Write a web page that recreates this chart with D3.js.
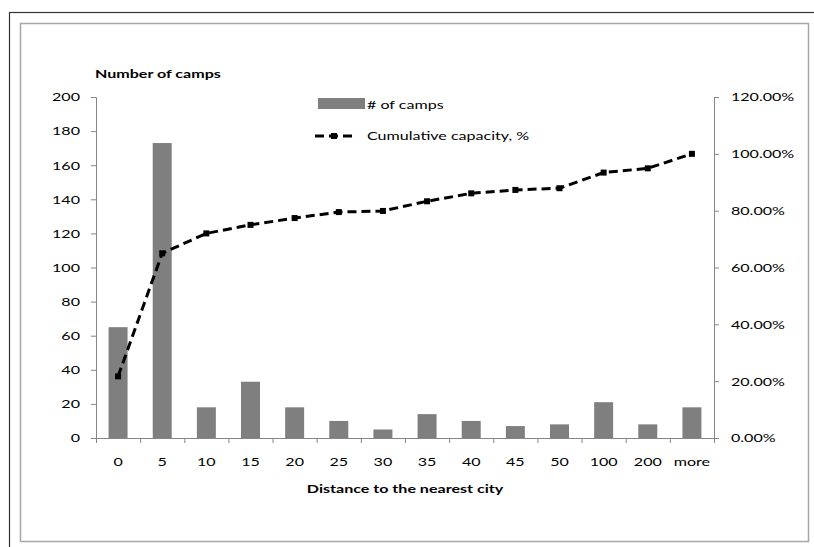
<!DOCTYPE html>
<html>
<head>
<meta charset="utf-8">
<script src="https://cdn.jsdelivr.net/npm/d3@7"></script>
<style>
  body { margin: 0; background: #fff; }
  text { font-family: Lato, "Open Sans", sans-serif; fill: #000; }
</style>
</head>
<body>
<div id="chart"></div>
<script>
// distance bins and values
const categories = ['0', '5', '10', '15', '20', '25', '30', '35', '40', '45', '50', '100', '200', 'more'];
const camps = [65, 173, 18, 33, 18, 10, 5, 14, 10, 7, 8, 21, 8, 18];
const cumulative = [0.217, 0.65, 0.72, 0.75, 0.774, 0.795, 0.799, 0.833, 0.861, 0.873, 0.879, 0.934, 0.949, 1.0];
const leftTicks = [0, 20, 40, 60, 80, 100, 120, 140, 160, 180, 200];
const rightTicks = [0, 0.2, 0.4, 0.6, 0.8, 1.0, 1.2];

const W = 814, H = 547;
const margin = { top: 97, right: 100, bottom: 109, left: 96 };
const width = W - margin.left - margin.right;
const height = H - margin.top - margin.bottom;
const SX = 1.34; // text in the picture is stretched sideways
const axisColor = '#868686';

const root = d3.select('#chart').append('svg')
  .attr('width', W)
  .attr('height', H);

// frames
root.append('rect')
  .attr('x', 9.5).attr('y', 12.5).attr('width', 830).attr('height', 560)
  .attr('fill', 'none').attr('stroke', '#333').attr('stroke-width', 1.2);
root.append('rect')
  .attr('x', 20.5).attr('y', 23.5).attr('width', 788).attr('height', 518)
  .attr('fill', '#fff').attr('stroke', '#a6a6a6').attr('stroke-width', 1.5);

const svg = root.append('g')
  .attr('transform', `translate(${margin.left},${margin.top})`);

const x = d3.scaleBand()
  .domain(categories)
  .range([0, width])
  .paddingInner(0.57)
  .paddingOuter(0.285);

const xEdge = d3.scaleLinear()
  .domain([0, categories.length])
  .range([0, width]);

const yLeft = d3.scaleLinear().domain([0, 200]).range([height, 0]);
const yRight = d3.scaleLinear().domain([0, 1.2]).range([height, 0]);

function stretch(g) {
  g.selectAll('text').each(function () {
    const t = d3.select(this);
    const tx = +t.attr('x') || 0;
    t.attr('x', tx / SX).attr('transform', `scale(${SX},1)`);
  });
}

// bars
svg.selectAll('.bar')
  .data(camps)
  .join('rect')
  .attr('class', 'bar')
  .attr('x', (d, i) => x(categories[i]))
  .attr('y', d => yLeft(d))
  .attr('width', x.bandwidth())
  .attr('height', d => height - yLeft(d))
  .attr('fill', '#7f7f7f');

// left axis
const gLeft = svg.append('g')
  .call(d3.axisLeft(yLeft).tickValues(leftTicks).tickSize(5).tickPadding(11))
  .style('font-size', '12px');
gLeft.select('.domain').attr('stroke', axisColor);
gLeft.selectAll('line').attr('stroke', axisColor);
gLeft.call(stretch);

// right axis
const gRight = svg.append('g')
  .attr('transform', `translate(${width},0)`)
  .call(d3.axisRight(yRight).tickValues(rightTicks).tickFormat(d3.format('.2%')).tickSize(5).tickPadding(12))
  .style('font-size', '12px');
gRight.select('.domain').attr('stroke', axisColor);
gRight.selectAll('line').attr('stroke', axisColor);
gRight.call(stretch);

// x axis: labels at centres, ticks at bin edges
const gX = svg.append('g')
  .attr('transform', `translate(0,${height})`)
  .call(d3.axisBottom(x).tickSize(0).tickPadding(19))
  .style('font-size', '12px');
gX.select('.domain').remove();
gX.call(stretch);

const gEdge = svg.append('g')
  .attr('transform', `translate(0,${height})`)
  .call(d3.axisBottom(xEdge).ticks(categories.length).tickFormat('').tickSize(5).tickSizeOuter(0));
gEdge.select('.domain').attr('stroke', axisColor);
gEdge.selectAll('line').attr('stroke', axisColor);

// cumulative line
const line = d3.line()
  .x((d, i) => x(categories[i]) + x.bandwidth() / 2)
  .y(d => yRight(d));

svg.append('path')
  .datum(cumulative)
  .attr('fill', 'none')
  .attr('stroke', '#000')
  .attr('stroke-width', 3)
  .attr('stroke-dasharray', '9,5')
  .attr('d', line);

svg.selectAll('.mark')
  .data(cumulative)
  .join('rect')
  .attr('class', 'mark')
  .attr('x', (d, i) => x(categories[i]) + x.bandwidth() / 2 - 3)
  .attr('y', d => yRight(d) - 3)
  .attr('width', 6)
  .attr('height', 6)
  .attr('fill', '#000');

// axis titles
root.append('text')
  .attr('transform', `translate(95,78) scale(${SX},1)`)
  .style('font-size', '12px')
  .style('font-weight', 'bold')
  .text('Number of camps');

root.append('text')
  .attr('transform', `translate(${margin.left + width / 2},493) scale(${SX},1)`)
  .attr('text-anchor', 'middle')
  .style('font-size', '12px')
  .style('font-weight', 'bold')
  .text('Distance to the nearest city');

// legend
const legend = root.append('g').attr('transform', 'translate(318,98)');
legend.append('rect')
  .attr('x', 0).attr('y', 0).attr('width', 47).attr('height', 11)
  .attr('fill', '#7f7f7f');
legend.append('text')
  .attr('transform', `translate(49,11) scale(${SX},1)`)
  .style('font-size', '12px')
  .text('# of camps');

legend.append('line')
  .attr('x1', -3).attr('x2', 35).attr('y1', 38).attr('y2', 38)
  .attr('stroke', '#000').attr('stroke-width', 3).attr('stroke-dasharray', '9,5');
legend.append('rect')
  .attr('x', 13).attr('y', 35).attr('width', 6).attr('height', 6)
  .attr('fill', '#000');
legend.append('text')
  .attr('transform', `translate(49,42) scale(${SX},1)`)
  .style('font-size', '12px')
  .text('Cumulative capacity, %');
</script>
</body>
</html>
